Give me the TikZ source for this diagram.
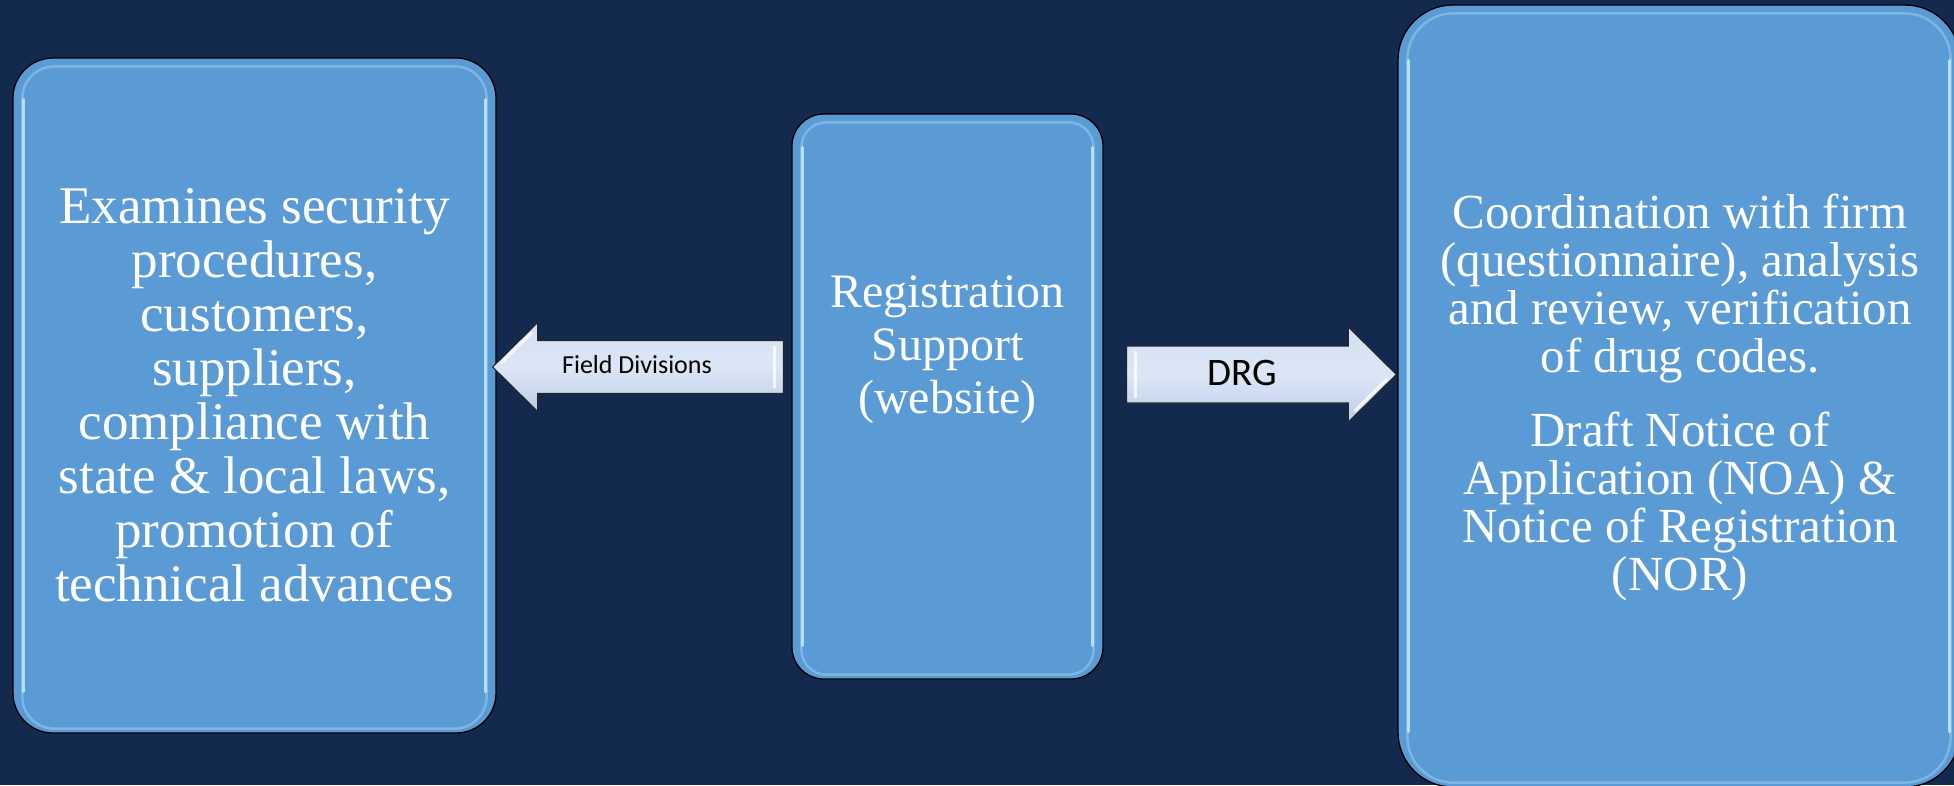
\documentclass[tikz,border=0pt]{standalone}
\usepackage{fontspec}
\setmainfont{Liberation Serif}
\newfontfamily\labelfont{Carlito}
\usetikzlibrary{calc}

\definecolor{navy}{HTML}{13294D}
\definecolor{boxblue}{HTML}{5B9BD5}
\definecolor{rimlight}{HTML}{BDE6FF}
\definecolor{arrowtop}{HTML}{D3DFF2}
\definecolor{arrowmid}{HTML}{DCE6F5}
\definecolor{arrowbot}{HTML}{BCCDE9}

% Horizontal block arrow: #1 tail point, #2 tip point (its y is taken from the tail),
% #3 shaft half-height, #4 head half-height, #5 head length (signed toward the tip),
% #6 which head edge gets the bevel (+1 upper, -1 lower), #7 tail highlight offset
\newcommand\blockarrow[7]{%
  \path[arrowbody] let \p1=(#1), \p2=(#2) in
    (\x1,\y1+#3) -- (\x2-#5,\y1+#3) -- (\x2-#5,\y1+#4) -- (\x2,\y1)
    -- (\x2-#5,\y1-#4) -- (\x2-#5,\y1-#3) -- (\x1,\y1-#3) -- cycle;
  \path[arrowrim] let \p1=(#1), \p2=(#2) in
    (\x1+#7,\y1+#3-6pt) -- (\x1+#7,\y1-#3+6pt);
  \path[arrowrim] let \p1=(#1), \p2=(#2) in
    (\x2-0.2*#5,\y1+#6*0.1*#4) -- (\x2-0.86*#5,\y1+#6*0.76*#4);
}

\begin{document}
\begin{tikzpicture}[x=1pt,y=-1pt,
  panel/.style={draw=black, line width=1.3pt, fill=boxblue, inner sep=0pt},
  rim/.style={draw=rimlight, line width=2.4pt, opacity=0.35},
  rimside/.style={draw=rimlight, line width=3pt, opacity=0.9, line cap=round},
  paneltext/.style={text=white, align=center, inner sep=0pt},
  arrowbody/.style={draw=black!85, line width=1.1pt, top color=arrowtop, bottom color=arrowbot, middle color=arrowmid},
  arrowrim/.style={draw=white, line width=3pt, opacity=0.75, line cap=round},
  arrowtext/.style={font=\labelfont, text=black, anchor=base, inner sep=0pt}]

\fill[navy] (0,0) rectangle (1954,785);
\useasboundingbox (0,0) rectangle (1954,785);

% the three panels
\node[panel, rounded corners=40pt, minimum width=483pt, minimum height=675pt] (left) at (254.5,395.5) {};
\node[panel, rounded corners=32pt, minimum width=311pt, minimum height=565pt] (mid) at (947.5,396.5) {};
\node[panel, rounded corners=55pt, minimum width=562pt, minimum height=782pt] (right) at (1679,396) {};

% glossy inner rims: a faint loop plus bright side strips
\foreach \b/\r/\s in {left/32pt/42pt, mid/25pt/34pt, right/46pt/56pt}{
  \draw[rim, rounded corners=\r] ([xshift=10pt,yshift=-9pt]\b.north west) rectangle ([xshift=-10pt,yshift=5pt]\b.south east);
  \draw[rimside] ([xshift=11pt,yshift=-\s]\b.north west) -- ([xshift=11pt,yshift=\s]\b.south west);
  \draw[rimside] ([xshift=-11pt,yshift=-\s]\b.north east) -- ([xshift=-11pt,yshift=\s]\b.south east);
}

% panel texts
\node[paneltext, font=\fontsize{53}{54}\selectfont] (leftText) at (left.center)
  {Examines security\\procedures,\\customers,\\suppliers,\\compliance with\\state \& local laws,\\promotion of\\technical advances};
\node[paneltext, font=\fontsize{48}{53}\selectfont] (midText) at ($(mid.center)+(0,-47)$)
  {Registration\\Support\\(website)};
\node[paneltext, font=\fontsize{49}{48}\selectfont] (rightText) at ($(right.center)+(1,1)$)
  {Coordination with firm\\(questionnaire), analysis\\and review, verification\\of drug codes.\\[26pt]%
   Draft Notice of\\Application (NOA) \&\\Notice of Registration\\(NOR)};

% block arrows between the panels
\coordinate (fdTail) at ([xshift=-8pt]mid.west |- 0,367);
\blockarrow{fdTail}{[xshift=-4pt]left.east}{26.5pt}{44.5pt}{-45pt}{1}{-9pt}
\node[arrowtext, font=\labelfont\fontsize{26}{30}\selectfont] (fdLabel) at (637,373) {Field Divisions};

\coordinate (drgTail) at ([xshift=23pt]mid.east |- 0,374.5);
\blockarrow{drgTail}{[xshift=-1pt]right.west}{28.5pt}{47.5pt}{48pt}{-1}{9pt}
\node[arrowtext, font=\labelfont\fontsize{39}{44}\selectfont] (drgLabel) at (1242,385) {DRG};

\end{tikzpicture}
\end{document}
